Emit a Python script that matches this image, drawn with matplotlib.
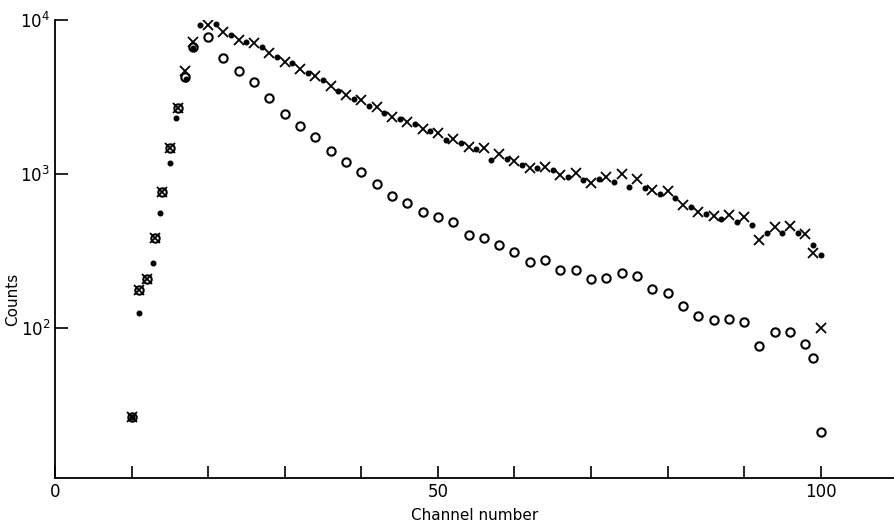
import numpy as np
import matplotlib.pyplot as plt
from matplotlib.ticker import LogLocator, NullLocator, FixedLocator

# crosses
x_ch = [10, 11, 12, 13, 14, 15, 16, 17, 18, 20, 22, 24, 26, 28, 30, 32, 34, 36, 38, 40,
        42, 44, 46, 48, 50, 52, 54, 56, 58, 60, 62, 64, 66, 68, 70, 72, 74, 76, 78, 80,
        82, 84, 86, 88, 90, 92, 94, 96, 98, 99, 100]
x_counts = [26.4, 177, 208, 384, 764, 1475, 2684, 4670, 7200, 9300, 8360, 7420, 7090, 6110,
            5340, 4810, 4330, 3730, 3260, 3020, 2720, 2350, 2180, 1960, 1850, 1690, 1500,
            1480, 1350, 1220, 1090, 1110, 987, 1010, 874, 955, 1000, 935, 790, 770, 630,
            567, 537, 540, 525, 375, 455, 460, 408, 305, 100]

# open circles
o_ch = [10, 11, 12, 13, 14, 15, 16, 17, 18, 20, 22, 24, 26, 28, 30, 32, 34, 36, 38, 40,
        42, 44, 46, 48, 50, 52, 54, 56, 58, 60, 62, 64, 66, 68, 70, 72, 74, 76, 78, 80,
        82, 84, 86, 88, 90, 92, 94, 96, 98, 99, 100]
o_counts = [26.4, 177, 208, 384, 764, 1475, 2684, 4260, 6680, 7750, 5660, 4670, 3960, 3115,
            2450, 2050, 1740, 1410, 1190, 1023, 860, 720, 646, 567, 525, 487, 401, 384,
            346, 311, 268, 277, 238, 238, 208, 212, 227, 218, 178, 168, 139, 120, 113,
            115, 109, 76.5, 94, 94, 79, 64, 21]

# filled dots
d_ch = [10, 11.0, 12.8, 13.7, 15.0, 15.8, 17.1, 18.0, 18.9, 21, 23, 25, 27, 29, 31, 33, 35,
        37, 39, 41, 43, 45, 47, 49, 51, 53, 55, 57, 59, 61, 63, 65, 67, 69, 71, 73, 75,
        77, 79, 81, 83, 85, 87, 89, 91, 93, 95, 97, 99, 100]
d_counts = [26.4, 125, 264, 558, 1178, 2310, 4140, 6580, 9280, 9420, 7990, 7220, 6680, 5750,
            5250, 4530, 4080, 3460, 3090, 2770, 2490, 2290, 2110, 1890, 1660, 1590, 1460,
            1240, 1260, 1140, 1090, 1060, 960, 913, 935, 890, 824, 811, 740, 700, 610,
            550, 510, 487, 465, 414, 414, 414, 345, 297]

fig = plt.figure(figsize=(8.95, 5.28), dpi=100)
ax = fig.add_axes([0.0615, 0.0947, 0.9385, 0.8673])

ax.plot(o_ch, o_counts, 'o', ms=6, mfc='none', mec='black', mew=1.5, ls='none')
ax.plot(x_ch, x_counts, 'x', ms=6.5, mec='black', mew=1.3, ls='none')
ax.plot(d_ch, d_counts, 'o', ms=3.3, mfc='black', mec='black', ls='none')

ax.set_yscale('log')
ax.set_xlim(0, 109.7)
ax.set_ylim(10.6, 1e4)

ax.spines['top'].set_visible(False)
ax.spines['right'].set_visible(False)
ax.spines['left'].set_linewidth(1.3)
ax.spines['bottom'].set_linewidth(1.3)

ax.xaxis.set_major_locator(FixedLocator(np.arange(0, 101, 10)))
ax.set_xticklabels(['0', '', '', '', '', '50', '', '', '', '', '100'])
ax.yaxis.set_major_locator(LogLocator(base=10, numticks=10))
ax.yaxis.set_minor_locator(NullLocator())
ax.tick_params(direction='in', length=9, width=1.2, labelsize=12)

ax.set_xlabel('Channel number', fontsize=11, labelpad=5)
ax.set_ylabel('Counts', fontsize=11)
ax.yaxis.set_label_coords(-0.042, 0.39)

fig.savefig('out.png', dpi=100)
